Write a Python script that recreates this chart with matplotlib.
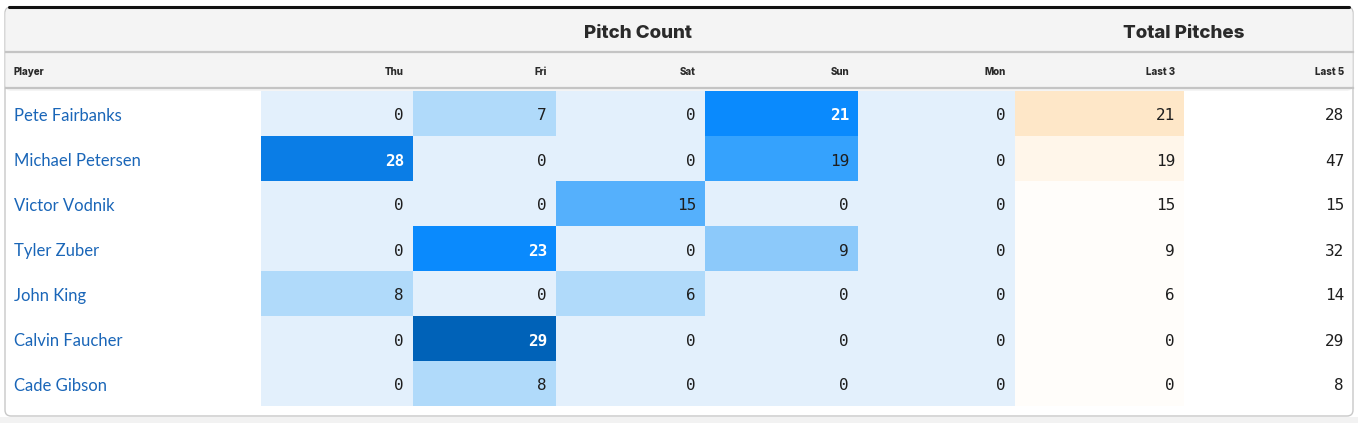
import matplotlib.pyplot as plt
from matplotlib.patches import Rectangle, FancyBboxPatch
from matplotlib.colors import ListedColormap, BoundaryNorm
import numpy as np

players = ["Pete Fairbanks", "Michael Petersen", "Victor Vodnik", "Tyler Zuber",
           "John King", "Calvin Faucher", "Cade Gibson"]
days = ["Thu", "Fri", "Sat", "Sun", "Mon"]
pitches = np.array([
    [0, 7, 0, 21, 0],
    [28, 0, 0, 19, 0],
    [0, 0, 15, 0, 0],
    [0, 23, 0, 9, 0],
    [8, 0, 6, 0, 0],
    [0, 29, 0, 0, 0],
    [0, 8, 0, 0, 0],
])
last3 = [21, 19, 15, 9, 6, 0, 0]
last5 = [28, 47, 15, 32, 14, 29, 8]

# pixel layout
W, H = 1358, 423
col_edges = [5, 261, 413, 556, 705, 858, 1015, 1184, 1353]
row_top = 91
row_h = 45

blue_cmap = ListedColormap(["#e3f0fc", "#b0dafa", "#8cc9fa", "#55b0fc",
                            "#35a2fd", "#0a8afd", "#0a7de6", "#0062b8"])
blue_norm = BoundaryNorm([0, 1, 9, 12, 17, 20, 25, 28.5, 40], blue_cmap.N)
orange_cmap = ListedColormap(["#fffdfa", "#fff6ea", "#fee7c8"])
orange_norm = BoundaryNorm([0, 17, 20, 40], orange_cmap.N)

fig = plt.figure(figsize=(W / 100, H / 100), dpi=100)
ax = fig.add_axes([0, 0, 1, 1])
ax.set_xlim(0, W)
ax.set_ylim(H, 0)
ax.axis("off")

# background
ax.add_patch(Rectangle((0, 0), W, H, facecolor="white", zorder=0))
ax.add_patch(Rectangle((0, 417), W, 10, facecolor="#f2f2f2", zorder=0))
ax.add_patch(FancyBboxPatch((5, 7), 1348, 409, boxstyle="round,pad=0,rounding_size=6",
                            facecolor="white", edgecolor="#c8c8c8", lw=1, zorder=1))
# header
ax.add_patch(FancyBboxPatch((5.5, 7.5), 1347, 83.5, boxstyle="round,pad=0,rounding_size=6",
                            facecolor="#f4f4f4", edgecolor="none", zorder=1.5))
ax.plot([9, 1349], [7.5, 7.5], color="#111111", lw=2.2, zorder=3, solid_capstyle="round")
ax.plot([5.5, 1352.5], [52, 52], color="#c4c4c4", lw=1.6, zorder=3)
ax.plot([5.5, 1352.5], [88, 88], color="#c4c4c4", lw=1.6, zorder=3)

hfont = ["Inter", "DejaVu Sans"]
ax.text((col_edges[1] + col_edges[6]) / 2, 31, "Pitch Count", ha="center", va="center_baseline",
        fontsize=13.5, fontweight="heavy", color="#2a2a2a", family=hfont, zorder=4)
ax.text(col_edges[7], 31, "Total Pitches", ha="center", va="center_baseline",
        fontsize=13.5, fontweight="heavy", color="#2a2a2a", family=hfont, zorder=4)

sub_labels = ["Player"] + days + ["Last 3", "Last 5"]
for i, lab in enumerate(sub_labels):
    if i == 0:
        ax.text(14, 71, lab, ha="left", va="center_baseline", fontsize=7, fontweight="heavy",
                color="#2a2a2a", family=hfont, zorder=4)
    else:
        ax.text(col_edges[i + 1] - 9, 71, lab, ha="right", va="center_baseline", fontsize=7,
                fontweight="heavy", color="#2a2a2a", family=hfont, zorder=4)

# rows
nfont = "DejaVu Sans Mono"
for r, name in enumerate(players):
    y0 = row_top + r * row_h
    yc = y0 + row_h / 2 + 1
    ax.text(14, yc, name, ha="left", va="center_baseline", fontsize=12, color="#1a66b8",
            family=["Lato", "DejaVu Sans"], zorder=4)
    for c in range(len(days)):
        v = pitches[r, c]
        x0, x1 = col_edges[c + 1], col_edges[c + 2]
        ax.add_patch(Rectangle((x0, y0), x1 - x0, row_h, facecolor=blue_cmap(blue_norm(v)),
                               edgecolor="none", zorder=2))
        ax.text(x1 - 9, yc, str(v), ha="right", va="center_baseline", fontsize=11.5,
                color="white" if v >= 20 else "#1e1e1e", family=nfont,
                fontweight="bold" if v >= 20 else "normal", zorder=4)
    x0, x1 = col_edges[6], col_edges[7]
    ax.add_patch(Rectangle((x0, y0), x1 - x0, row_h, facecolor=orange_cmap(orange_norm(last3[r])),
                           edgecolor="none", zorder=2))
    ax.text(x1 - 9, yc, str(last3[r]), ha="right", va="center_baseline", fontsize=11.5,
            color="#1e1e1e", family=nfont, zorder=4)
    ax.text(col_edges[8] - 9, yc, str(last5[r]), ha="right", va="center_baseline", fontsize=11.5,
            color="#1e1e1e", family=nfont, zorder=4)

fig.savefig("out.png", dpi=100)
